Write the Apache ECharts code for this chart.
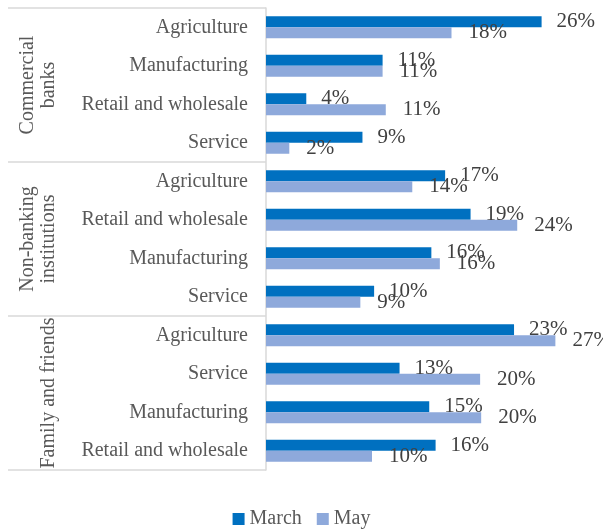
<!DOCTYPE html>
<html>
<head>
<meta charset="utf-8">
<script src="https://cdn.jsdelivr.net/npm/echarts@6/dist/echarts.min.js"></script>
<style>
  html, body { margin: 0; padding: 0; background: #fff; }
  #chart { width: 603px; height: 529px; }
</style>
</head>
<body>
<div id="chart"></div>
<script>
// 资金来源 / 行业
var groups = ['Commercial\nbanks', 'Non-banking\ninstitutions', '\nFamily and friends'];
var sectors = ['Agriculture', 'Manufacturing', 'Retail and wholesale', 'Service',
               'Agriculture', 'Retail and wholesale', 'Manufacturing', 'Service',
               'Agriculture', 'Service', 'Manufacturing', 'Retail and wholesale'];
var march = [26, 11, 3.8, 9.1, 16.9, 19.3, 15.6, 10.2, 23.4, 12.6, 15.4, 16];
var may = [17.5, 11, 11.3, 2.2, 13.8, 23.7, 16.4, 8.9, 27.3, 20.2, 20.3, 10];

var fontName = 'Liberation Serif';
var myChart = echarts.init(document.getElementById('chart'));

function pctLabel(p) {
	return Math.round(p.value) + '%';
}

var option = {
	animation: false,
	textStyle: { fontFamily: fontName },
	grid: { left: 266, top: 8, bottom: 59, right: 19 },
	legend: {
		top: 504,
		left: 'center',
		icon: 'rect',
		itemWidth: 12,
		itemHeight: 12,
		itemGap: 15,
		itemTextGap: 4,
		textStyle: { fontFamily: fontName, fontSize: 20, color: '#595959' },
		data: ['March', 'May']
	},
	xAxis: {
		type: 'value',
		min: 0,
		max: 30,
		show: false
	},
	yAxis: [
		{
			type: 'category',
			inverse: true,
			data: sectors,
			axisLine: { show: true, lineStyle: { color: '#D9D9D9', width: 1.5 } },
			axisTick: { show: false },
			axisLabel: { interval: 0, margin: 18, fontSize: 20, color: '#595959', fontFamily: fontName }
		},
		{
			type: 'category',
			inverse: true,
			position: 'left',
			data: groups,
			axisLine: { show: false },
			axisTick: { show: true, interval: 0, length: 258, lineStyle: { color: '#D9D9D9', width: 1.5 } },
			axisLabel: { interval: 0, hideOverlap: false, rotate: 90, margin: 207, fontSize: 20, color: '#595959', fontFamily: fontName, lineHeight: 21 }
		}
	],
	series: [
		{
			name: 'March',
			type: 'bar',
			yAxisIndex: 0,
			data: march,
			barWidth: 11,
			barGap: '0%',
			itemStyle: { color: '#0070C0' },
			label: { show: true, position: 'right', distance: 15, formatter: pctLabel, fontSize: 21, color: '#404040', fontFamily: fontName }
		},
		{
			name: 'May',
			type: 'bar',
			yAxisIndex: 0,
			data: may,
			barWidth: 11,
			barGap: '0%',
			itemStyle: { color: '#8EA9DB' },
			label: { show: true, position: 'right', distance: 17, formatter: pctLabel, fontSize: 21, color: '#404040', fontFamily: fontName }
		}
	]
};
myChart.setOption(option);
</script>
</body>
</html>
